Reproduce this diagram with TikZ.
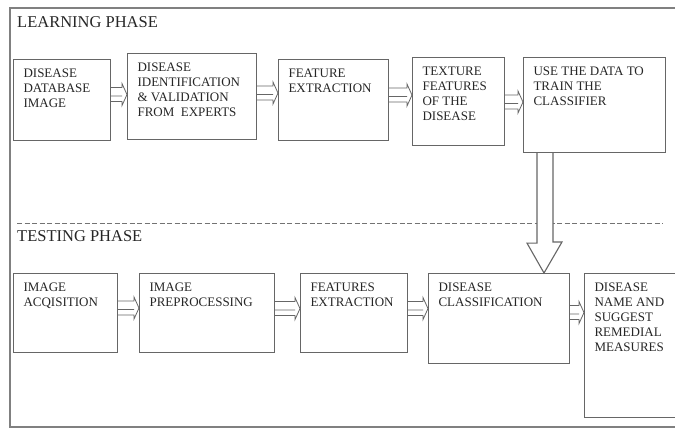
\documentclass[tikz,border=0pt]{standalone}
\usepackage{fontspec}
\setmainfont{Liberation Serif}
\usetikzlibrary{calc}

% text of a stage, set at the top left of its box
\newcommand{\stagetext}[3]{\parbox[t][#2pt][t]{#1pt}{\raggedright #3}}

% small outlined block arrow from a point to the west side of a node
\newcommand{\flow}[2]{%
  \draw[flowarrow] let \p1=#1, \p2=(#2) in
    (\x1,\y1+7pt) -- (\x2-5pt,\y1+7pt) -- (\x2-5pt,\y1+11pt) -- (\x2,\y1)
    -- (\x2-5pt,\y1-11pt) -- (\x2-5pt,\y1-7pt) -- (\x1,\y1-7pt)
    (\x1,\y1-1.5pt) -- (\x2-5pt,\y1-1.5pt);}

\tikzset{
  stage/.style={draw=black!60, line width=1.1pt, anchor=north west,
    inner xsep=10pt, inner ysep=9pt, font=\fontsize{13}{15}\selectfont, text=black!85},
  phase/.style={anchor=base west, inner sep=0pt,
    font=\fontsize{16.5}{18}\selectfont, text=black!85},
  flowarrow/.style={draw=black!60, line width=0.8pt, line join=miter},
  bigarrow/.style={draw=black!60, line width=1.1pt, fill=white, line join=miter},
  frame/.style={draw=black!50, line width=1.4pt},
  sep/.style={draw=black!55, line width=1pt, dash pattern=on 5pt off 2.5pt}
}

\begin{document}
\begin{tikzpicture}[x=1pt, y=-1pt]
    \useasboundingbox (0,0) rectangle (675,428);
    \draw[frame] (10,8) rectangle (700,427);

    % learning phase
    \node[phase] (learn) at (17,28) {LEARNING PHASE};
    \node[stage] (b1) at (13,59) {\stagetext{77}{63}{DISEASE\\DATABASE\\IMAGE}};
    \node[stage] (b2) at (127,53) {\stagetext{109}{68}{DISEASE\\IDENTIFICATION\\\& VALIDATION\\FROM\ \ EXPERTS}};
    \node[stage] (b3) at (278,59) {\stagetext{90}{63}{FEATURE\\EXTRACTION}};
    \node[stage] (b4) at (412,57) {\stagetext{72}{70}{TEXTURE\\FEATURES\\OF THE\\DISEASE}};
    \node[stage] (b5) at (523,57) {\stagetext{122}{77}{USE THE DATA TO\\TRAIN THE\\CLASSIFIER}};

    \flow{([yshift=5.5pt]b1.east)}{b2.west}
    \flow{([yshift=3.5pt]b2.east)}{b3.west}
    \flow{([yshift=5pt]b3.east)}{b4.west}
    \flow{([yshift=-0.5pt]b4.east)}{b5.west}

    \draw[sep] (17,223) -- (663,223);

    % testing phase
    \node[phase] (test) at (17,241) {TESTING PHASE};
    \node[stage] (t1) at (13,273) {\stagetext{84}{61}{IMAGE\\ACQISITION}};
    \node[stage] (t2) at (139,273) {\stagetext{115}{61}{IMAGE\\PREPROCESSING}};
    \node[stage] (t3) at (300,273) {\stagetext{87}{61}{FEATURES\\EXTRACTION}};
    \node[stage] (t4) at (428,273) {\stagetext{121}{72}{DISEASE\\CLASSIFICATION}};
    \node[stage] (t5) at (584,273) {\stagetext{80}{126}{DISEASE\\NAME AND\\SUGGEST\\REMEDIAL\\MEASURES}};

    \flow{([yshift=5pt]t1.east)}{t2.west}
    \flow{([yshift=4.5pt]t2.east)}{t3.west}
    \flow{([yshift=4.5pt]t3.east)}{t4.west}
    \flow{([yshift=6pt]t4.east)}{t5.west}

    % trained classifier goes to the classification
    \draw[bigarrow] ([xshift=14pt]b5.south west) -- ++(0,90) -- ++(-10,0)
        -- ([xshift=21pt]b5.south west |- t4.north) -- ++(18,-31) -- ++(-9,0)
        -- ([xshift=30pt]b5.south west);
\end{tikzpicture}
\end{document}
